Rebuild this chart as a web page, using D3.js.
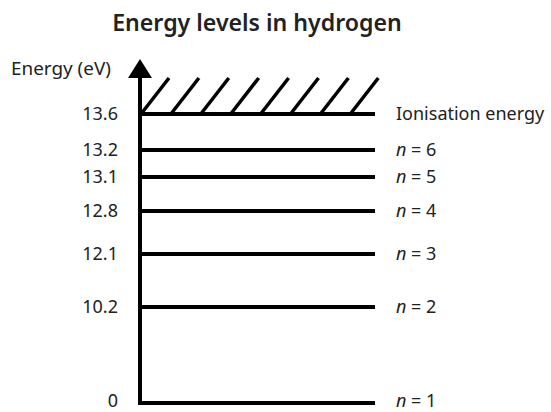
<!DOCTYPE html>
<html><head><meta charset="utf-8">
<script src="https://cdn.jsdelivr.net/npm/d3@7"></script>
<style>
body{margin:0;background:#fff;}
text{font-family:"Noto Sans",sans-serif;fill:#222;}
</style></head>
<body><svg id="chart" width="551" height="412"></svg>
<script>
const title = "Energy levels in hydrogen";
const axisLabel = "Energy (eV)";
const energies = [0, 10.2, 12.1, 12.8, 13.1, 13.2, 13.6];
const tickLabels = ["0", "10.2", "12.1", "12.8", "13.1", "13.2", "13.6"];
const levelNames = ["1", "2", "3", "4", "5", "6", null];
const ionLabel = "Ionisation energy";
const hatchCount = 8;

const svg = d3.select("#chart");
const x0 = 140, x1 = 375;
// schematic (non-linear) energy axis
const y = d3.scaleLinear().domain(energies).range([403, 307, 254, 211, 177, 150, 114]);
const xh = d3.scaleLinear().domain([0, hatchCount]).range([x0 + 1, x0 + 1 + hatchCount * 29.9]);

const fit = (sel, w) => sel.each(function () {
  const cur = this.getComputedTextLength();
  if (cur > 0) this.setAttribute("font-size", parseFloat(this.getAttribute("font-size")) * w / cur);
});
const dyFor = e => e === 0 ? "0.2em" : "0.33em";

svg.append("text").attr("x", 257).attr("y", 31).attr("text-anchor", "middle")
  .attr("font-size", 20).attr("font-weight", 600).text(title).call(fit, 290);

// axis with tick labels
const axis = d3.axisLeft(y).tickValues(energies).tickFormat((d, i) => tickLabels[i]).tickSize(0).tickPadding(22);
const gAxis = svg.append("g").attr("transform", `translate(${x0},0)`).call(axis);
gAxis.select(".domain").remove();
gAxis.attr("font-family", null).attr("font-size", null);
gAxis.selectAll("text").attr("font-size", 18).attr("fill", "#222").attr("dy", d => dyFor(d));

// hatching above ionisation
const yi = y(13.6);
svg.append("g").selectAll("line").data(d3.range(hatchCount)).join("line")
  .attr("x1", d => xh(d)).attr("y1", yi)
  .attr("x2", d => xh(d) + 28).attr("y2", yi - 36)
  .attr("stroke", "#000").attr("stroke-width", 3.5);

// level lines
svg.append("g").selectAll("line").data(energies).join("line")
  .attr("x1", x0).attr("x2", x1).attr("y1", d => y(d)).attr("y2", d => y(d))
  .attr("stroke", "#000").attr("stroke-width", 4);

// vertical axis line and arrow
svg.append("line").attr("x1", x0).attr("x2", x0).attr("y1", y(0) + 2).attr("y2", 74)
  .attr("stroke", "#000").attr("stroke-width", 4);
svg.append("path").attr("d", `M${x0 - 12},78 L${x0 + 12},78 L${x0},59 Z`).attr("fill", "#000");

svg.append("text").attr("x", 11).attr("y", 75).attr("font-size", 18).text(axisLabel).call(fit, 100);

// level labels
const lab = svg.append("g");
energies.forEach((e, i) => {
  const t = lab.append("text").attr("x", 396).attr("y", y(e)).attr("dy", dyFor(e)).attr("font-size", 18);
  if (levelNames[i] === null) { t.text(ionLabel); }
  else {
    t.append("tspan").attr("font-style", "italic").text("n");
    t.append("tspan").text(" = " + levelNames[i]);
  }
});
</script></body></html>
